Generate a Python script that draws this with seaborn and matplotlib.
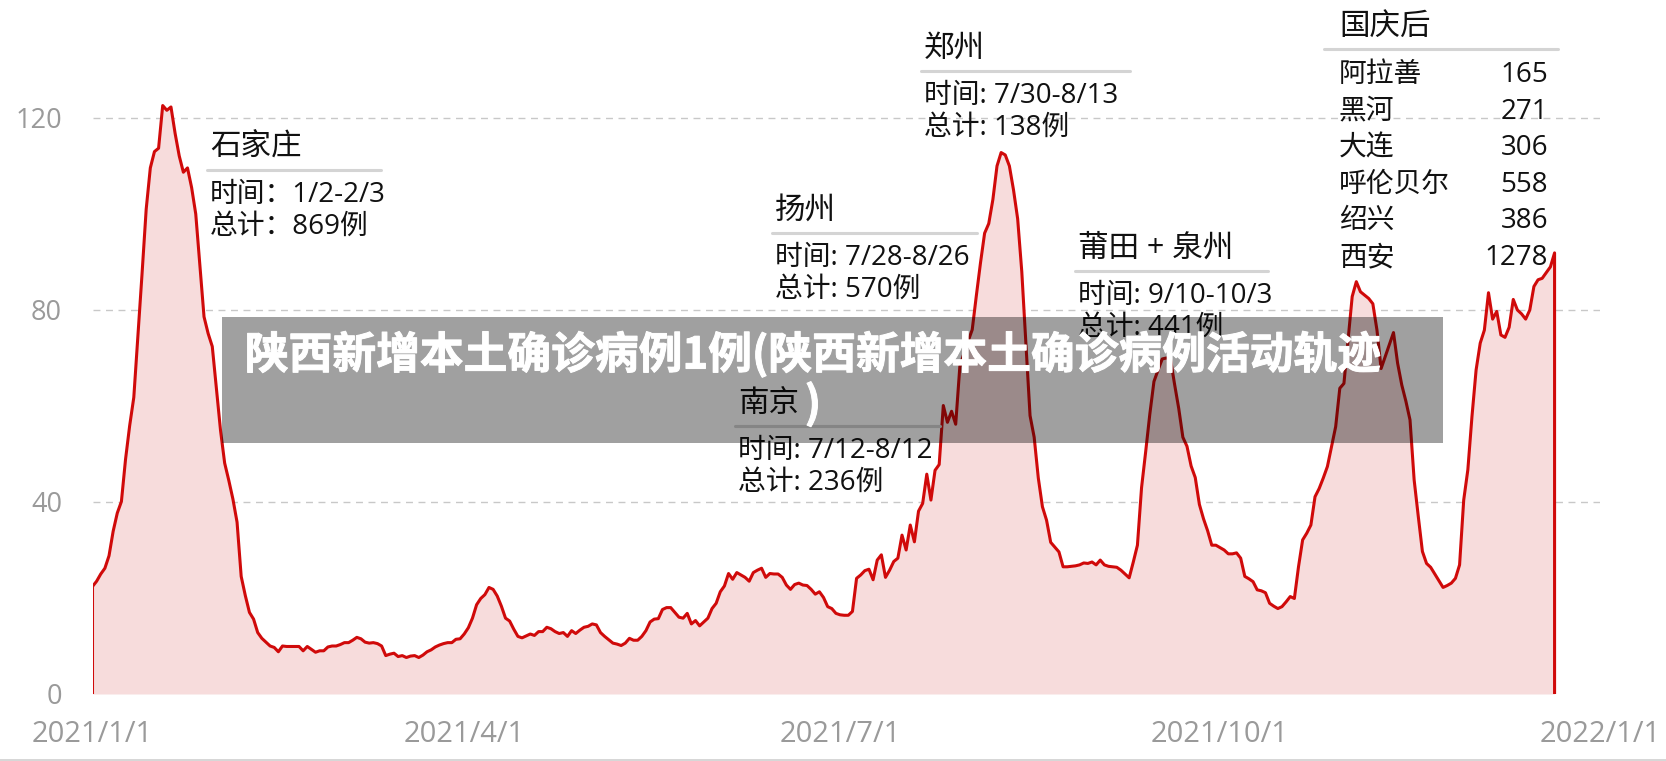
import matplotlib
matplotlib.use("Agg")
import matplotlib.pyplot as plt
import matplotlib.patheffects as pe
import numpy as np
import pandas as pd
import seaborn as sns
from matplotlib.patches import Rectangle
from matplotlib.lines import Line2D

# 7-day average of new local cases, one value per day from 2021-01-01
start_date = "2021-01-01"
daily_avg = [
    22.4, 23.5, 25.0, 26.2, 28.8, 33.9, 37.7, 40.1, 48.9, 55.9,
    61.8, 74.6, 87.6, 101.0, 109.6, 113.0, 113.7, 122.6, 121.6, 122.3,
    116.8, 112.1, 108.7, 109.6, 105.5, 100.0, 89.3, 78.6, 75.1, 72.4,
    63.6, 54.9, 48.1, 44.5, 40.6, 35.8, 24.5, 20.5, 17.0, 15.6,
    12.8, 11.6, 10.8, 10.0, 9.7, 8.8, 10.0, 9.9, 9.9, 9.9,
    9.9, 9.0, 9.9, 9.3, 8.7, 9.0, 9.0, 9.8, 10.0, 10.0,
    10.3, 10.7, 10.7, 11.2, 11.8, 11.5, 10.8, 10.6, 10.7, 10.5,
    10.0, 8.0, 8.3, 8.5, 7.8, 8.0, 7.6, 7.9, 8.0, 7.6,
    8.1, 8.8, 9.2, 9.8, 10.2, 10.5, 10.7, 10.7, 11.4, 11.5,
    12.5, 13.8, 15.8, 18.6, 19.9, 20.7, 22.2, 21.8, 20.4, 18.3,
    15.8, 15.2, 13.5, 12.0, 11.7, 12.1, 12.5, 12.2, 13.0, 13.0,
    13.9, 13.6, 13.0, 12.6, 12.8, 12.0, 13.2, 12.6, 13.3, 13.9,
    14.1, 14.6, 14.4, 12.8, 12.0, 11.3, 10.6, 10.4, 10.1, 10.6,
    11.6, 11.2, 11.2, 12.0, 13.2, 15.0, 15.6, 15.7, 17.6, 18.0,
    18.0, 17.0, 16.0, 15.8, 16.8, 14.6, 15.3, 14.2, 15.0, 15.8,
    17.8, 18.9, 21.3, 22.5, 25.1, 23.9, 25.3, 24.8, 24.3, 23.5,
    25.3, 25.8, 26.2, 24.3, 25.1, 25.0, 25.0, 24.3, 22.7, 21.8,
    22.8, 23.1, 22.7, 22.6, 21.8, 20.8, 21.3, 20.1, 18.2, 17.8,
    16.8, 16.5, 16.4, 16.4, 17.2, 24.1, 24.8, 25.7, 26.0, 23.8,
    27.9, 29.0, 24.3, 25.8, 27.6, 28.3, 33.1, 30.0, 35.2, 31.7,
    38.1, 39.7, 45.8, 40.4, 46.6, 47.8, 60.1, 56.6, 58.9, 56.2,
    68.2, 71.0, 73.5, 75.9, 83.0, 89.8, 96.0, 98.0, 103.0, 110.0,
    112.8, 112.3, 110.0, 105.0, 99.0, 88.0, 73.0, 58.0, 53.5, 45.0,
    39.0, 36.2, 31.6, 30.6, 29.6, 26.5, 26.5, 26.6, 26.7, 26.9,
    27.3, 27.2, 27.5, 26.9, 27.9, 26.9, 26.6, 26.5, 26.4, 25.8,
    25.0, 24.2, 27.5, 31.0, 43.0, 50.5, 58.3, 65.1, 67.5, 69.8,
    70.0, 69.8, 64.5, 59.5, 53.5, 51.6, 47.5, 45.1, 39.5, 36.5,
    34.0, 31.0, 31.0, 30.5, 30.0, 29.2, 29.2, 29.4, 28.3, 24.5,
    24.0, 23.4, 21.7, 21.5, 21.1, 18.9, 18.3, 17.8, 18.2, 19.2,
    20.3, 19.9, 26.5, 32.1, 33.5, 35.2, 41.1, 42.8, 45.0, 47.4,
    51.5, 55.7, 63.7, 64.7, 73.8, 82.8, 85.9, 83.8, 83.1, 82.4,
    81.3, 75.8, 67.8, 70.3, 72.8, 75.3, 68.9, 64.4, 61.0, 57.1,
    44.6, 37.0, 29.7, 27.2, 26.4, 25.0, 23.6, 22.2, 22.6, 23.1,
    24.1, 26.9, 40.4, 46.7, 57.8, 67.5, 73.1, 75.8, 83.6, 78.1,
    79.7, 74.8, 74.3, 76.4, 82.2, 80.0, 79.2, 78.1, 80.0, 84.9,
    86.3, 86.6, 87.8, 89.0, 91.9,
]

tick_dates = ["2021-01-01", "2021-04-01", "2021-07-01", "2021-10-01", "2022-01-01"]
tick_labels = ["2021/1/1", "2021/4/1", "2021/7/1", "2021/10/1", "2022/1/1"]
y_ticks = [0, 40, 80, 120]

outbreak_names = ["石家庄", "扬州", "郑州", "莆田 + 泉州", "南京"]
outbreak_periods = ["时间：1/2-2/3", "时间: 7/28-8/26", "时间: 7/30-8/13", "时间: 9/10-10/3", "时间: 7/12-8/12"]
outbreak_totals = ["总计：869例", "总计: 570例", "总计: 138例", "总计: 441例", "总计: 236例"]

after_holiday_title = "国庆后"
after_holiday_cities = ["阿拉善", "黑河", "大连", "呼伦贝尔", "绍兴", "西安"]
after_holiday_cases = [165, 271, 306, 558, 386, 1278]

banner_text = "陕西新增本土确诊病例1例(陕西新增本土确诊病例活动轨迹\n)"

W, H = 1666, 761
LINE_RED = "#d00a0a"
FILL_PINK = "#f7dcdc"
GREY = "#9a9a9a"
fonts = ["Open Sans", "Noto Sans CJK SC", "DejaVu Sans"]

sns.set_style("white")
plt.rcParams["font.family"] = fonts

dates = pd.date_range(start_date, periods=len(daily_avg), freq="D")
values = np.array(daily_avg)

fig = plt.figure(figsize=(W / 100, H / 100), dpi=100)
fig.patch.set_facecolor("white")

def fx(px):
    return px / W

def fy(py):
    return 1 - py / H

x0_px, x1_px, y0_px = 92.5, 1600, 694
y_max = 130
ax = fig.add_axes([fx(x0_px), 1 - y0_px / H, (x1_px - x0_px) / W, y_max * 4.8 / H])

# area + outline (the outline also closes down to zero at both ends)
ax.fill_between(dates, 0, values, color=FILL_PINK, linewidth=0, zorder=2)
outline = pd.DataFrame({
    "date": [dates[0]] + list(dates) + [dates[-1]],
    "cases": np.concatenate([[0], values, [0]]),
})
sns.lineplot(data=outline, x="date", y="cases", ax=ax, color=LINE_RED,
             linewidth=2.2, estimator=None, sort=False, zorder=3)

ax.set_xlim(pd.Timestamp(tick_dates[0]), pd.Timestamp(tick_dates[-1]))
ax.set_ylim(0, y_max)
ax.set_xlabel("")
ax.set_ylabel("")
for s in ax.spines.values():
    s.set_visible(False)

ax.set_yticks(y_ticks)
ax.set_yticklabels([str(v) for v in y_ticks])
ax.tick_params(axis="y", length=0, pad=22, labelsize=19.5, labelcolor=GREY)
ax.set_xticks([pd.Timestamp(d) for d in tick_dates])
ax.set_xticklabels(tick_labels)
ax.tick_params(axis="x", length=12, width=1.6, color="#a0a0a0", pad=7,
               labelsize=21, labelcolor=GREY, direction="out")

ax.set_axisbelow(True)
ax.yaxis.grid(True, color="#c8c8c8", linestyle=(0, (5, 4)), linewidth=1.0, zorder=0)
for gl in ax.get_ygridlines()[:1]:
    gl.set_visible(False)
ax.xaxis.grid(False)

# outbreak notes
note_pos = [(210, 148), (775, 211), (924, 49), (1078, 249), (738, 404)]
note_rule = [(207, 381), (772, 977), (921, 1130), (1075, 1268), (735, 940)]
for i, name in enumerate(outbreak_names):
    lx, ty = note_pos[i]
    fig.text(fx(lx), fy(ty), name, fontsize=22, color="#111111",
             ha="left", va="center", family=fonts)
    fig.add_artist(Line2D([fx(note_rule[i][0]), fx(note_rule[i][1])],
                          [fy(ty + 22), fy(ty + 22)], color="#d4d4d4", linewidth=2.2))
    fig.text(fx(lx), fy(ty + 47), outbreak_periods[i], fontsize=20, color="#111111",
             ha="left", va="center", family=fonts)
    fig.text(fx(lx), fy(ty + 79), outbreak_totals[i], fontsize=20, color="#111111",
             ha="left", va="center", family=fonts)

# after national day table
fig.text(fx(1339), fy(27), after_holiday_title, fontsize=22, color="#111111",
         ha="left", va="center", family=fonts)
fig.add_artist(Line2D([fx(1324), fx(1558)], [fy(49), fy(49)], color="#d4d4d4", linewidth=2.2))
for i, (city, n) in enumerate(zip(after_holiday_cities, after_holiday_cases)):
    ry = 75 + i * 36.6
    fig.text(fx(1339), fy(ry), city, fontsize=20, color="#111111",
             ha="left", va="center", family=fonts)
    fig.text(fx(1548), fy(ry), str(n), fontsize=20, color="#111111",
             ha="right", va="center", family=fonts)

# translucent banner on top
fig.add_artist(Rectangle((fx(222), fy(443)), (1443 - 222) / W, (443 - 317) / H,
                         transform=fig.transFigure, facecolor="black", alpha=0.373,
                         edgecolor="none", zorder=10))
fig.text(fx(813), fy(379), banner_text, fontsize=31.5, color="white", fontweight="bold",
         ha="center", va="center", multialignment="center", linespacing=1.12,
         family=["Noto Sans CJK SC", "DejaVu Sans"], zorder=11,
         path_effects=[pe.withStroke(linewidth=0.7, foreground="white")])

# thin rule at the bottom edge
fig.add_artist(Line2D([0, 1], [fy(759.5), fy(759.5)], color="#d0d0d0", linewidth=1.2))

fig.savefig("out.png", dpi=100, facecolor="white")
